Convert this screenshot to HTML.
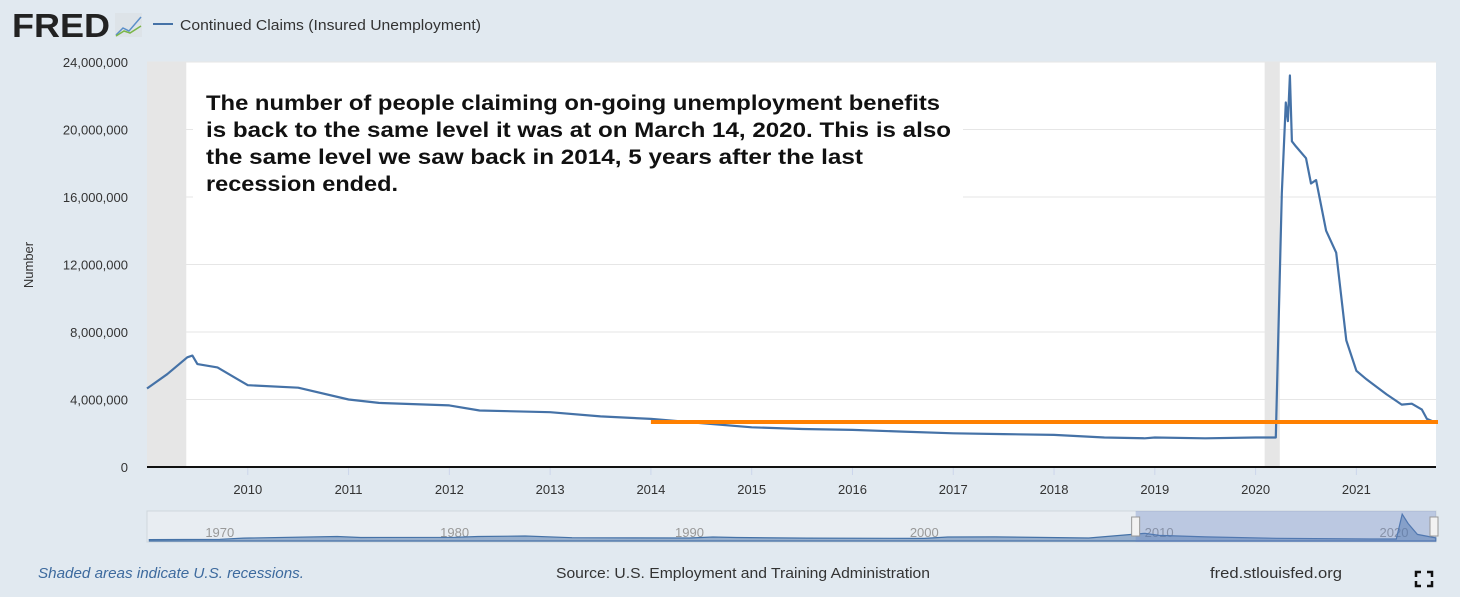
<!DOCTYPE html>
<html><head><meta charset="utf-8"><style>
body{margin:0;width:1460px;height:597px;background:#e1e9f0;font-family:"Liberation Sans",sans-serif;overflow:hidden}
svg{position:absolute;left:0;top:0}
</style></head><body>
<svg width="1460" height="597">
<g>
<text x="12" y="37" font-size="33" font-weight="bold" fill="#222" textLength="98" lengthAdjust="spacingAndGlyphs">FRED</text>
<rect x="115" y="13" width="27" height="24" fill="#dde3e8"/>
<polyline points="116,35 123,28 129,31 141,17" fill="none" stroke="#5b8fc9" stroke-width="1.5"/>
<polyline points="116,36 124,31 130,33 141,26" fill="none" stroke="#7ab648" stroke-width="1.5"/>
</g>
<line x1="153" y1="24" x2="173" y2="24" stroke="#4572a7" stroke-width="2"/>
<text x="180" y="30" font-size="15" fill="#333" textLength="301" lengthAdjust="spacingAndGlyphs">Continued Claims (Insured Unemployment)</text>
<rect x="147" y="62" width="1289" height="405" fill="#fff"/>
<g id="rec"></g>
<g id="grid"></g>
<rect x="193" y="80" width="770" height="118" fill="#fff"/>
<g font-size="21" font-weight="bold" fill="#111">
<text x="206" y="110" textLength="734" lengthAdjust="spacingAndGlyphs">The number of people claiming on-going unemployment benefits</text>
<text x="206" y="137" textLength="745" lengthAdjust="spacingAndGlyphs">is back to the same level it was at on March 14, 2020. This is also</text>
<text x="206" y="164" textLength="657" lengthAdjust="spacingAndGlyphs">the same level we saw back in 2014, 5 years after the last</text>
<text x="206" y="191" textLength="192" lengthAdjust="spacingAndGlyphs">recession ended.</text></g>
<g id="yt"></g>
<g id="xt"></g>
<line x1="147" y1="467" x2="1436" y2="467" stroke="#111" stroke-width="2"/>
<text transform="translate(33,265) rotate(-90)" text-anchor="middle" font-size="13" fill="#333">Number</text>
<path id="series" fill="none" stroke="#4572a7" stroke-width="2.2" stroke-linejoin="round"/>
<line id="orange" stroke="#ff8000" stroke-width="4"/>
<g>
<rect x="147" y="511" width="1289" height="31" fill="#e8edf2" stroke="#cfd6dd"/>
<g id="navt"></g>
<path id="navarea" fill="#4572a7" fill-opacity="0.5" stroke="#4572a7" stroke-width="1.2"/>
<rect id="navsel" y="511" height="31" fill="#6685c2" fill-opacity="0.35"/>
<rect id="h1" y="517" width="8" height="19" fill="#f2f2f2" stroke="#999"/>
<rect id="h2" y="517" width="8" height="19" fill="#f2f2f2" stroke="#999"/>
</g>
<text x="38" y="578" font-size="14.5" font-style="italic" fill="#3d6a9e" textLength="266" lengthAdjust="spacingAndGlyphs">Shaded areas indicate U.S. recessions.</text>
<text x="556" y="578" font-size="14.5" fill="#333" textLength="374" lengthAdjust="spacingAndGlyphs">Source: U.S. Employment and Training Administration</text>
<text x="1210" y="578" font-size="14.5" fill="#333" textLength="132" lengthAdjust="spacingAndGlyphs">fred.stlouisfed.org</text>
<g fill="none" stroke="#111" stroke-width="2.5">
<path d="M1416,577 v-5 h5 M1427,572 h5 v5 M1432,581 v5 h-5 M1421,586 h-5 v-5"/></g>
</svg>
<script>
const yTicks=[0,4000000,8000000,12000000,16000000,20000000,24000000];
const xYears=[2010,2011,2012,2013,2014,2015,2016,2017,2018,2019,2020,2021];
const recessions=[[2007.95,2009.39],[2020.09,2020.24]];
const dates=[2009.0,2009.2,2009.4,2009.45,2009.5,2009.7,2009.9,2010.0,2010.5,2011.0,2011.3,2012.0,2012.3,2013.0,2013.5,2014.0,2014.5,2015.0,2015.5,2016.0,2016.5,2017.0,2017.5,2018.0,2018.5,2018.9,2019.0,2019.5,2020.0,2020.2,2020.26,2020.3,2020.32,2020.34,2020.36,2020.4,2020.5,2020.55,2020.6,2020.7,2020.8,2020.9,2021.0,2021.1,2021.3,2021.45,2021.55,2021.65,2021.7,2021.78];
const claims=[4650000,5500000,6500000,6600000,6100000,5900000,5200000,4850000,4700000,4000000,3800000,3650000,3350000,3250000,3000000,2850000,2600000,2350000,2250000,2200000,2100000,2000000,1950000,1900000,1750000,1700000,1750000,1700000,1750000,1750000,16200000,21600000,20500000,23200000,19300000,19000000,18300000,16800000,17000000,14000000,12700000,7500000,5700000,5200000,4300000,3700000,3750000,3400000,2850000,2650000];
const refLevel=2670000, refStart=2014.0;
const navYears=[1967,1970,1971,1975,1976,1980,1981,1983,1985,1990,1991,1992,1995,2000,2001,2003,2007,2009.4,2010,2012,2015,2019,2020.1,2020.35,2020.6,2021,2021.78];
const navVals=[1200000,1500000,2500000,3900000,3000000,3200000,3900000,4300000,2800000,2600000,3400000,3000000,2500000,2200000,3400000,3500000,2600000,6600000,4800000,3500000,2300000,1700000,1750000,23000000,15000000,5700000,2650000];
const navLabels=[1970,1980,1990,2000,2010,2020];
const X0=147,X1=1436,Y0=467,Y1=62,T0=2009.0,T1=2021.79;
const sx=t=>X0+(t-T0)/(T1-T0)*(X1-X0), sy=v=>Y0-v/24000000*(Y0-Y1);
const N0=1966.9,N1=2021.79,ny0=541,ny1=514;
const nx=t=>X0+(t-N0)/(N1-N0)*(X1-X0), nyf=v=>ny0-v/23200000*(ny0-ny1);
const NS="http://www.w3.org/2000/svg";
function mk(tag,parent,attrs){const e=document.createElementNS(NS,tag);for(const k in attrs)e.setAttribute(k,attrs[k]);document.getElementById(parent).appendChild(e);return e;}
recessions.forEach(r=>{const a=Math.max(sx(r[0]),X0),b=Math.min(sx(r[1]),X1);
const e=mk('rect','rec',{x:a,y:Y1,width:b-a,height:Y0-Y1,fill:'#e6e6e6'});

});
yTicks.forEach(v=>{if(v>0){const g=mk('line','grid',{x1:X0,x2:X1,y1:sy(v),y2:sy(v),stroke:'#e6e6e6','stroke-width':1});

}
const t=mk('text','yt',{x:128,y:sy(v)+5,'text-anchor':'end','font-size':13,fill:'#333'});t.textContent=v.toLocaleString('en-US');

});
xYears.forEach(y=>{const l=mk('line','xt',{x1:sx(y),x2:sx(y),y1:Y0,y2:Y0+8,stroke:'#ccd6eb'});


const t=mk('text','xt',{x:sx(y),y:494,'text-anchor':'middle','font-size':13,fill:'#333'});t.textContent=y;

});
document.getElementById('series').setAttribute('d',dates.map((d,i)=>(i?'L':'M')+sx(d).toFixed(1)+','+sy(claims[i]).toFixed(1)).join(''));
const o=document.getElementById('orange');o.setAttribute('x1',sx(refStart));o.setAttribute('x2',X1+2);o.setAttribute('y1',sy(refLevel));o.setAttribute('y2',sy(refLevel));
navLabels.forEach(y=>{const t=mk('text','navt',{x:nx(y),y:537,'text-anchor':'middle','font-size':13,fill:'#999'});t.textContent=y;

});
document.getElementById('navarea').setAttribute('d','M'+nx(navYears[0])+','+ny0+navYears.map((d,i)=>'L'+nx(d).toFixed(1)+','+nyf(navVals[i]).toFixed(1)).join('')+'L'+nx(navYears[navYears.length-1])+','+ny0+'Z');
const s=document.getElementById('navsel');s.setAttribute('x',nx(T0));s.setAttribute('width',X1-nx(T0));
document.getElementById('h1').setAttribute('x',nx(T0)-4);document.getElementById('h2').setAttribute('x',X1-6);
</script>
</body></html>
